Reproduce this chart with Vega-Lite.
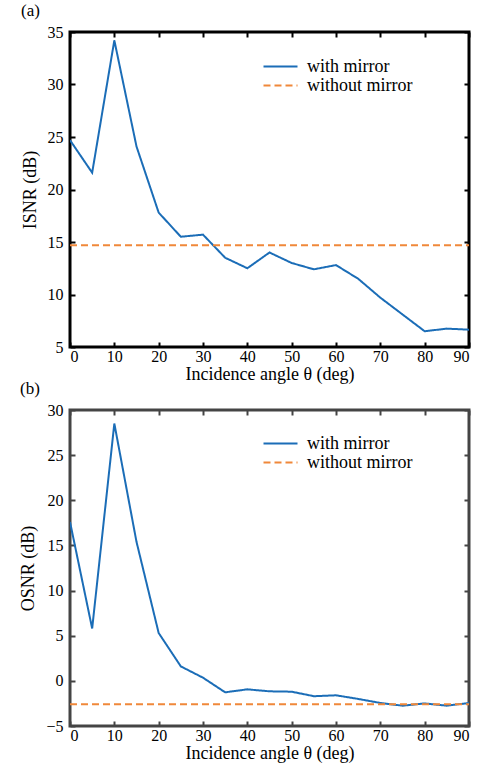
{
  "$schema": "https://vega.github.io/schema/vega-lite/v6.json",
  "padding": {"left": 18, "top": 0, "right": 5, "bottom": 0},
  "background": "white",
  "config": {
    "font": "Liberation Serif",
    "axis": {"labelFont": "Liberation Serif", "titleFont": "Liberation Serif", "labelFontSize": 16, "titleFontSize": 18, "labelColor": "black", "titleColor": "black", "titleFontWeight": "normal", "grid": false, "domain": false, "tickColor": "black", "tickWidth": 2, "tickSize": -5, "tickCap": "butt"},
    "legend": {"labelFont": "Liberation Serif", "labelFontSize": 18, "labelColor": "black"},
    "title": {"font": "Liberation Serif", "fontSize": 17, "fontWeight": "normal", "anchor": "start", "offset": 0, "color": "black"}
  },
  "datasets": {
    "isnr": [
      {"angle": 0, "value": 24.7, "series": "with mirror"},
      {"angle": 5, "value": 21.6, "series": "with mirror"},
      {"angle": 10, "value": 34.2, "series": "with mirror"},
      {"angle": 15, "value": 24.1, "series": "with mirror"},
      {"angle": 20, "value": 17.8, "series": "with mirror"},
      {"angle": 25, "value": 15.5, "series": "with mirror"},
      {"angle": 30, "value": 15.7, "series": "with mirror"},
      {"angle": 35, "value": 13.5, "series": "with mirror"},
      {"angle": 40, "value": 12.5, "series": "with mirror"},
      {"angle": 45, "value": 14.0, "series": "with mirror"},
      {"angle": 50, "value": 13.0, "series": "with mirror"},
      {"angle": 55, "value": 12.4, "series": "with mirror"},
      {"angle": 60, "value": 12.8, "series": "with mirror"},
      {"angle": 65, "value": 11.5, "series": "with mirror"},
      {"angle": 70, "value": 9.7, "series": "with mirror"},
      {"angle": 75, "value": 8.1, "series": "with mirror"},
      {"angle": 80, "value": 6.5, "series": "with mirror"},
      {"angle": 85, "value": 6.75, "series": "with mirror"},
      {"angle": 90, "value": 6.65, "series": "with mirror"},
      {"angle": 0, "value": 14.7, "series": "without mirror"},
      {"angle": 90, "value": 14.7, "series": "without mirror"}
    ],
    "osnr": [
      {"angle": 0, "value": 17.6, "series": "with mirror"},
      {"angle": 5, "value": 5.8, "series": "with mirror"},
      {"angle": 10, "value": 28.5, "series": "with mirror"},
      {"angle": 15, "value": 15.4, "series": "with mirror"},
      {"angle": 20, "value": 5.3, "series": "with mirror"},
      {"angle": 25, "value": 1.6, "series": "with mirror"},
      {"angle": 30, "value": 0.35, "series": "with mirror"},
      {"angle": 35, "value": -1.27, "series": "with mirror"},
      {"angle": 40, "value": -0.94, "series": "with mirror"},
      {"angle": 45, "value": -1.16, "series": "with mirror"},
      {"angle": 50, "value": -1.2, "series": "with mirror"},
      {"angle": 55, "value": -1.7, "series": "with mirror"},
      {"angle": 60, "value": -1.6, "series": "with mirror"},
      {"angle": 65, "value": -2.0, "series": "with mirror"},
      {"angle": 70, "value": -2.45, "series": "with mirror"},
      {"angle": 75, "value": -2.75, "series": "with mirror"},
      {"angle": 80, "value": -2.5, "series": "with mirror"},
      {"angle": 85, "value": -2.75, "series": "with mirror"},
      {"angle": 90, "value": -2.45, "series": "with mirror"},
      {"angle": 0, "value": -2.6, "series": "without mirror"},
      {"angle": 90, "value": -2.6, "series": "without mirror"}
    ]
  },
  "spacing": -7,
  "vconcat": [
    {
      "title": {"text": "(a)"},
      "width": 399,
      "height": 315,
      "view": {"stroke": "black", "strokeWidth": 3},
      "data": {"name": "isnr"},
      "layer": [
        {
          "mark": {"type": "line", "strokeWidth": 2, "clip": true},
          "encoding": {
            "x": {"field": "angle", "type": "quantitative", "scale": {"domain": [0, 90], "nice": false}, "axis": {"values": [0,10,20,30,40,50,60,70,80,90], "title": "Incidence angle θ (deg)", "labelPadding": 6, "titlePadding": 1}},
            "y": {"field": "value", "type": "quantitative", "scale": {"domain": [5, 35], "nice": false, "zero": false}, "axis": {"values": [5,10,15,20,25,30,35], "title": "ISNR (dB)", "labelPadding": 12, "titlePadding": 8}},
            "color": {"field": "series", "type": "nominal", "scale": {"domain": ["with mirror", "without mirror"], "range": ["#1b6db7", "#f0883a"]},
              "legend": {"title": null, "orient": "none", "legendX": 201, "legendY": 25, "symbolType": "M-2,0L2,0", "symbolSize": 289, "symbolStrokeWidth": 2, "rowPadding": 0, "labelOffset": 17}},
            "strokeDash": {"field": "series", "type": "nominal", "scale": {"domain": ["with mirror", "without mirror"], "range": [[1, 0], [7, 4]]}, "legend": null}
          }
        },
        {
          "mark": {"type": "line", "opacity": 0},
          "encoding": {
            "x": {"field": "angle", "type": "quantitative", "axis": {"orient": "top", "values": [0,10,20,30,40,50,60,70,80,90], "labels": false, "title": null}},
            "y": {"field": "value", "type": "quantitative", "axis": {"orient": "right", "values": [5,10,15,20,25,30,35], "labels": false, "title": null}}
          }
        }
      ],
      "resolve": {"axis": {"x": "independent", "y": "independent"}}
    },
    {
      "title": {"text": "(b)"},
      "width": 399,
      "height": 316,
      "view": {"stroke": "#444444", "strokeWidth": 3},
      "data": {"name": "osnr"},
      "layer": [
        {
          "mark": {"type": "line", "strokeWidth": 2, "clip": true},
          "encoding": {
            "x": {"field": "angle", "type": "quantitative", "scale": {"domain": [0, 90], "nice": false}, "axis": {"values": [0,10,20,30,40,50,60,70,80,90], "title": "Incidence angle θ (deg)", "labelPadding": 6, "titlePadding": 1, "tickColor": "#444444"}},
            "y": {"field": "value", "type": "quantitative", "scale": {"domain": [-5, 30], "nice": false, "zero": false}, "axis": {"values": [-5,0,5,10,15,20,25,30], "title": "OSNR (dB)", "labelPadding": 12, "titlePadding": 8, "tickColor": "#444444"}},
            "color": {"field": "series", "type": "nominal", "scale": {"domain": ["with mirror", "without mirror"], "range": ["#1b6db7", "#f0883a"]},
              "legend": {"title": null, "orient": "none", "legendX": 201, "legendY": 24, "symbolType": "M-2,0L2,0", "symbolSize": 289, "symbolStrokeWidth": 2, "rowPadding": 0, "labelOffset": 17}},
            "strokeDash": {"field": "series", "type": "nominal", "scale": {"domain": ["with mirror", "without mirror"], "range": [[1, 0], [7, 4]]}, "legend": null}
          }
        },
        {
          "mark": {"type": "line", "opacity": 0},
          "encoding": {
            "x": {"field": "angle", "type": "quantitative", "axis": {"orient": "top", "values": [0,10,20,30,40,50,60,70,80,90], "labels": false, "title": null, "tickColor": "#444444"}},
            "y": {"field": "value", "type": "quantitative", "axis": {"orient": "right", "values": [-5,0,5,10,15,20,25,30], "labels": false, "title": null, "tickColor": "#444444"}}
          }
        }
      ],
      "resolve": {"axis": {"x": "independent", "y": "independent"}}
    }
  ],
  "resolve": {"scale": {"color": "independent", "strokeDash": "independent"}}
}
